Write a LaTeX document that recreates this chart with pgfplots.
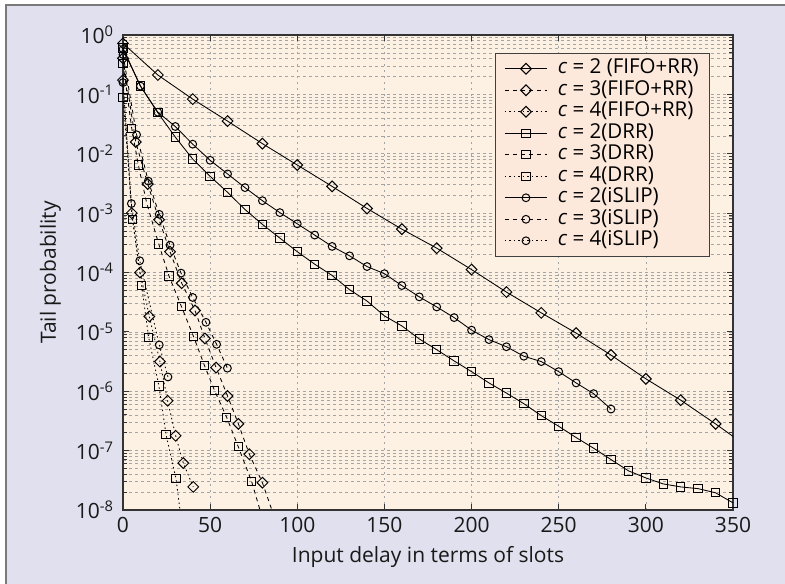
\documentclass[border=0pt]{standalone}
\usepackage{fontspec}
\setmainfont{Open Sans}
\usepackage{pgfplots}
\pgfplotsset{compat=1.18}
\definecolor{bgout}{HTML}{E0E0EE}
\definecolor{bgplot}{HTML}{FDF1E4}
\definecolor{bgleg}{HTML}{FDE9DC}
\definecolor{gridc}{HTML}{A5A5A5}
\definecolor{framec}{HTML}{7A7A7A}
\begin{document}
\begin{tikzpicture}[x=1pt,y=1pt]
\useasboundingbox (0,0) rectangle (785,584);
\fill[bgout] (6,0) rectangle (785,579);
\draw[framec, line width=1.5pt] (6,0) -- (6,579) -- (785,579);
\begin{axis}[
  at={(123pt,74pt)}, anchor=south west,
  scale only axis, width=610pt, height=475pt,
  xmin=0, xmax=350, ymode=log, ymin=1e-8, ymax=1,
  xtick={0,50,...,350},
  ytick={1e-8,1e-7,1e-6,1e-5,1e-4,1e-3,1e-2,1e-1,1},
  yticklabels={10\textsuperscript{-8},10\textsuperscript{-7},10\textsuperscript{-6},10\textsuperscript{-5},10\textsuperscript{-4},10\textsuperscript{-3},10\textsuperscript{-2},10\textsuperscript{-1},10\textsuperscript{0}},
  /pgf/number format/assume math mode=true,
  xmajorgrids, ymajorgrids, yminorgrids,
  grid style={gridc, dash pattern=on 2.5pt off 3.5pt, line width=0.65pt},
  tick align=inside,
  major tick length=6pt, minor tick length=4pt,
  axis line style={line width=1.2pt, black!80},
  every tick/.style={black!80, line width=0.8pt},
  axis background/.style={fill=bgplot},
  tick label style={font=\fontsize{21}{24}\selectfont, black!90},
  xticklabel style={yshift=-4pt},
  yticklabel style={xshift=-6pt},
  label style={font=\fontsize{21}{24}\selectfont, black!90},
  xlabel={Input delay in terms of slots},
  ylabel={Tail probability},
  xlabel style={yshift=-7pt},
  ylabel style={yshift=8pt},
  clip mode=individual,
  legend style={at={(0.61,0.963)}, anchor=north west, fill=bgleg, draw=black!75, line width=0.9pt,
    font=\fontsize{20.5}{22}\selectfont, nodes={inner sep=1.5pt, text height=14pt, text depth=4.5pt},
    inner xsep=9pt, inner ysep=5pt, /tikz/column 1/.style={column sep=9pt}},
  legend cell align=left,
  legend image code/.code={\draw[#1, mark indices={2}] plot coordinates {(0pt,0pt) (21pt,0pt) (42pt,0pt)};},
  every axis plot/.append style={black, line width=0.85pt},
  dia/.style={mark=square, mark size=3.8pt, mark options={solid, rotate=45, line width=1pt}},
  sqr/.style={mark=square, mark size=4.2pt, mark options={solid, line width=1pt}},
  cir/.style={mark=o, mark size=3.9pt, mark options={solid, line width=1pt}},
  dsh/.style={dash pattern=on 4pt off 4pt},
  dot/.style={dash pattern=on 1.5pt off 3pt},
]
% c=2 FIFO+RR
\addplot[solid, dia, mark indices={1,...,18}] coordinates {
(0,0.724) (20,0.212) (40,0.0832) (60,0.0355) (80,0.0148) (100,0.00646) (120,0.00282)
(140,0.00120) (160,5.37e-4) (180,2.57e-4) (200,1.12e-4) (220,4.68e-5) (240,2.09e-5)
(260,9.55e-6) (280,4.07e-6) (300,1.62e-6) (320,7.08e-7) (340,2.82e-7) (360,1.07e-7)};
\addlegendentry{\textit{c} = 2 (FIFO+RR)}
% c=3 FIFO+RR
\addplot[dsh, dia, mark indices={1,...,13}] coordinates {
(0,0.407) (7.3,0.0158) (14.2,0.00309) (20.7,7.76e-4) (27,2.24e-4) (33.7,6.61e-5)
(41.3,2.29e-5) (47,7.76e-6) (53.4,2.51e-6) (60,8.32e-7) (66.2,2.82e-7) (72.5,8.71e-8)
(80,2.88e-8) (88,6.03e-9)};
\addlegendentry{\textit{c} = 3(FIFO+RR)}
% c=4 FIFO+RR
\addplot[dot, dia] coordinates {
(0,0.174) (5,0.001) (9.8,1.0e-4) (15.1,1.82e-5) (21.2,3.16e-6) (25.6,6.92e-7)
(30.2,1.78e-7) (34.6,6.17e-8) (40.3,2.45e-8)};
\addlegendentry{\textit{c} = 4(FIFO+RR)}
% c=2 DRR
\addplot[solid, sqr] coordinates {
(0,0.603) (10,0.138) (20,0.049) (30,0.0191) (40,0.00813) (50,0.00417) (60,0.00224)
(70,0.00115) (80,6.46e-4) (90,3.80e-4) (100,2.24e-4) (110,1.38e-4) (120,8.91e-5)
(130,5.13e-5) (140,3.31e-5) (150,1.86e-5) (160,1.26e-5) (170,7.59e-6) (180,5.01e-6)
(190,3.24e-6) (200,2.14e-6) (210,1.38e-6) (220,9.33e-7) (230,6.17e-7) (240,3.89e-7)
(250,2.57e-7) (260,1.66e-7) (270,1.10e-7) (280,7.08e-8) (290,4.57e-8) (300,3.47e-8)
(310,2.75e-8) (320,2.45e-8) (330,2.29e-8) (340,1.95e-8) (350,1.32e-8)};
\addlegendentry{\textit{c} = 2(DRR)}
% c=3 DRR
\addplot[dsh, sqr, mark indices={1,...,13}] coordinates {
(0,0.331) (5,0.0269) (8.8,0.00646) (13.6,0.00148) (20.5,3.02e-4) (26.4,8.71e-5)
(33.5,2.69e-5) (40.5,8.32e-6) (46.8,2.69e-6) (52.6,1.02e-6) (59.5,3.63e-7)
(66.1,1.17e-7) (73.8,3.02e-8) (81,5.75e-9)};
\addlegendentry{\textit{c} = 3(DRR)}
% c=4 DRR
\addplot[dot, sqr, mark indices={1,...,7}] coordinates {
(0,0.0891) (5.5,7.76e-4) (10.7,6.03e-5) (14.7,8.13e-6) (20.6,1.23e-6) (24.7,1.86e-7)
(30.4,3.39e-8) (35,2.95e-9)};
\addlegendentry{\textit{c} = 4(DRR)}
% c=2 iSLIP
\addplot[solid, cir] coordinates {
(0,0.575) (10,0.138) (20,0.0501) (30,0.0288) (40,0.0145) (50,0.00776) (60,0.00457)
(70,0.00269) (80,0.00162) (90,0.00102) (100,6.61e-4) (110,4.27e-4) (120,2.75e-4)
(130,1.91e-4) (140,1.26e-4) (150,9.55e-5) (160,6.03e-5) (170,3.89e-5) (180,2.63e-5)
(190,1.74e-5) (200,1.07e-5) (210,7.41e-6) (220,5.62e-6) (230,3.89e-6) (240,3.16e-6)
(250,2.14e-6) (260,1.38e-6) (270,9.12e-7) (280,5.01e-7)};
\addlegendentry{\textit{c} = 2(iSLIP)}
% c=3 iSLIP
\addplot[dsh, cir] coordinates {
(0,0.468) (7.8,0.0209) (14.5,0.00347) (20.8,9.55e-4) (27,2.88e-4) (33.3,9.77e-5)
(40,3.80e-5) (47.6,1.45e-5) (53.7,6.17e-6) (59.9,2.45e-6)};
\addlegendentry{\textit{c} = 3(iSLIP)}
% c=4 iSLIP
\addplot[dot, cir] coordinates {
(0,0.158) (4.8,0.00145) (9.6,1.58e-4) (20.8,6.03e-6) (25.8,1.74e-6)};
\addlegendentry{\textit{c} = 4(iSLIP)}
\end{axis}
\end{tikzpicture}
\end{document}
